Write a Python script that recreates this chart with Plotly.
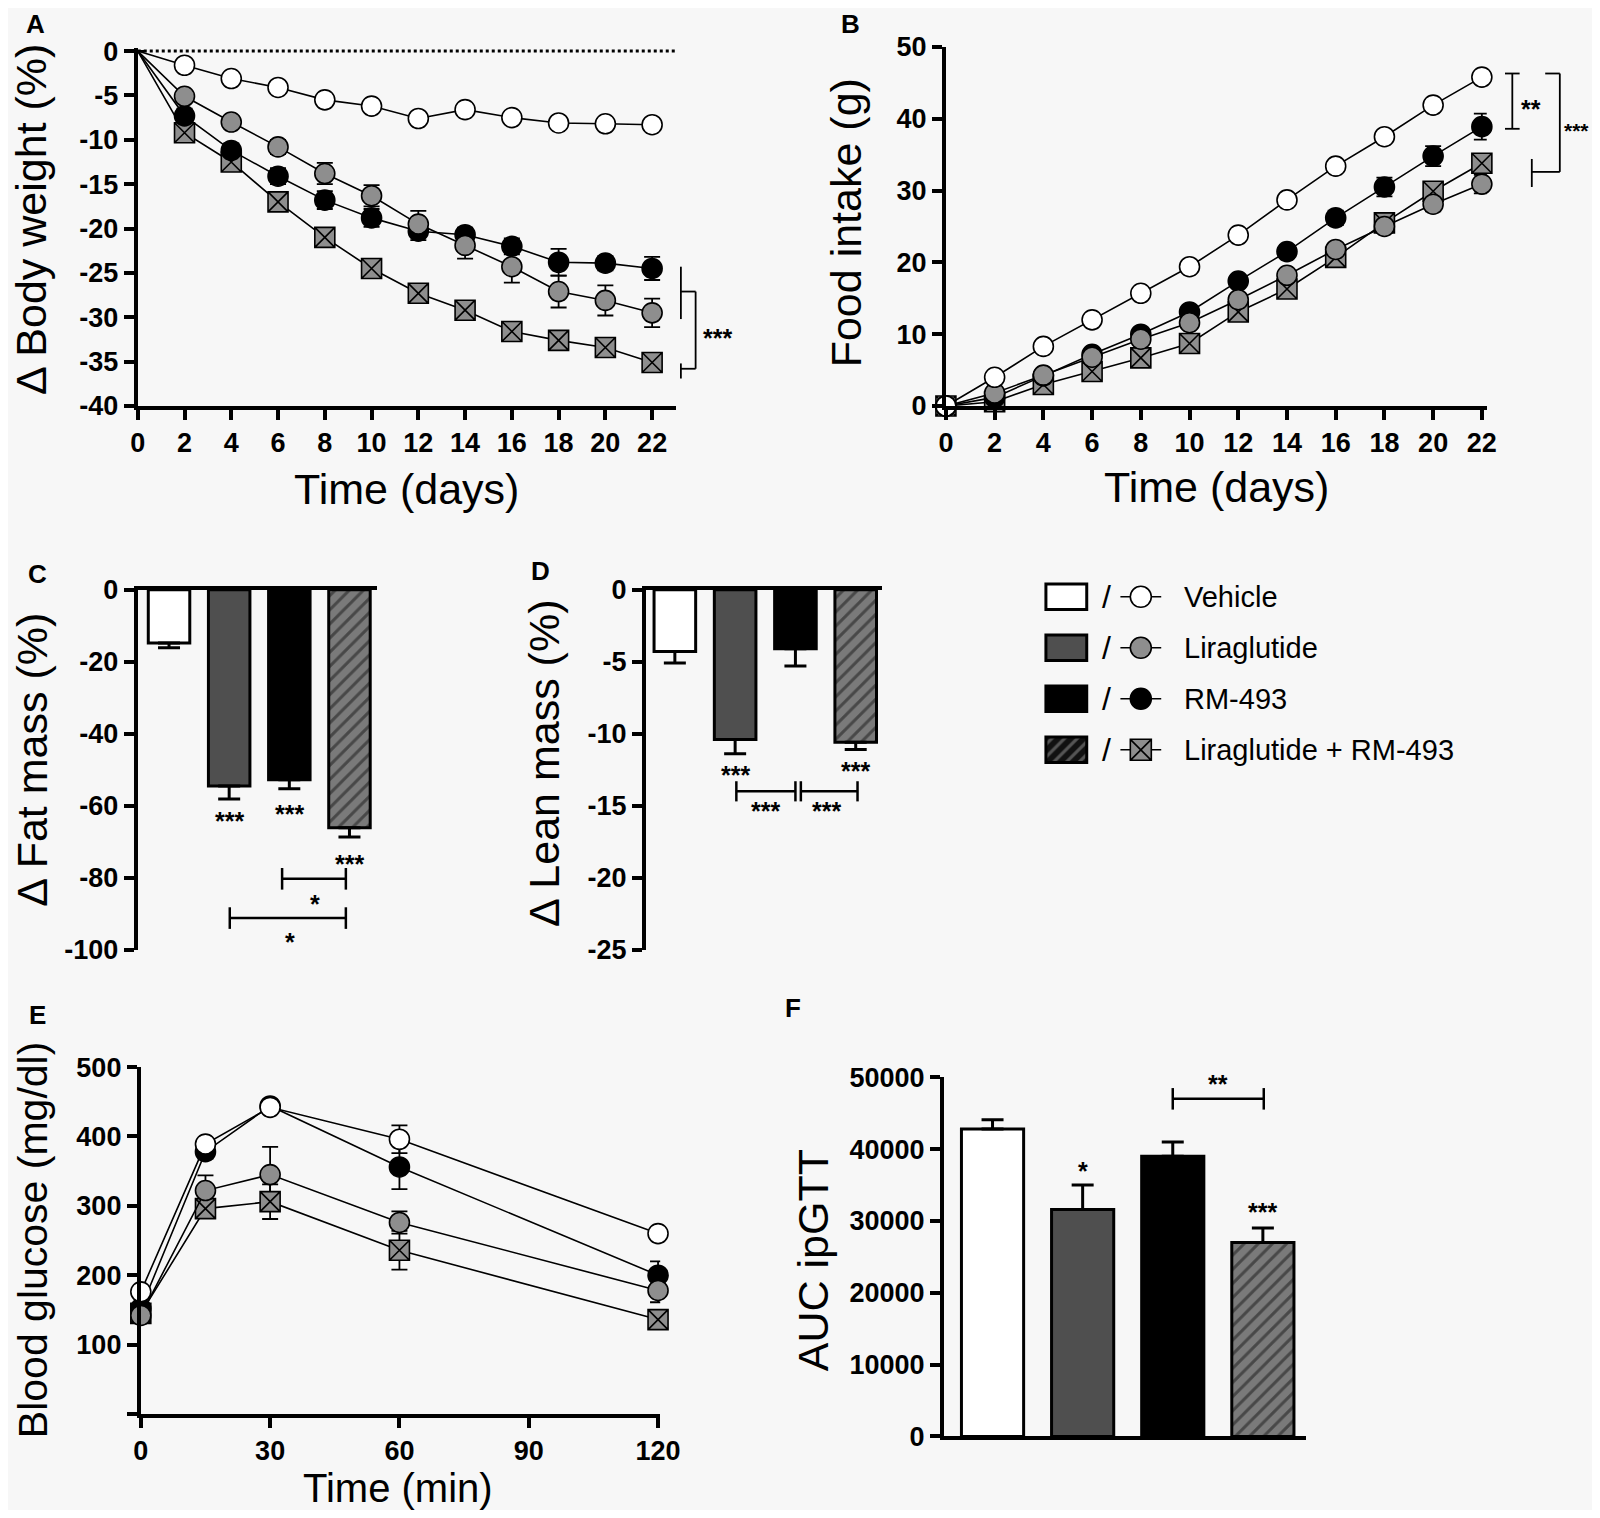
import plotly.graph_objects as go

# groups
groups = ["Vehicle", "Liraglutide", "RM-493", "Liraglutide + RM-493"]

# A: body weight change (%)
days = [0, 2, 4, 6, 8, 10, 12, 14, 16, 18, 20, 22]
bw_vehicle = [0, -1.6, -3.1, -4.1, -5.5, -6.2, -7.6, -6.6, -7.5, -8.1, -8.2, -8.3]
bw_lira = [0, -5.1, -8.0, -10.8, -13.8, -16.3, -19.5, -21.9, -24.3, -27.1, -28.1, -29.5]
bw_rm = [0, -7.3, -11.2, -14.1, -16.8, -18.8, -20.3, -20.7, -22.0, -23.8, -23.9, -24.5]
bw_combo = [0, -9.2, -12.5, -17.0, -21.0, -24.5, -27.3, -29.2, -31.6, -32.6, -33.4, -35.1]
bw_vehicle_err = [0, 0.4, 0.5, 0.5, 0.5, 0.6, 0.6, 0.6, 0.6, 0.6, 0.6, 0.6]
bw_lira_err = [0, 0.6, 0.7, 0.8, 1.2, 1.2, 1.5, 1.5, 1.8, 1.8, 1.7, 1.6]
bw_rm_err = [0, 0.8, 0.8, 0.9, 1.0, 1.0, 1.0, 0.8, 0.9, 1.5, 0.8, 1.3]
bw_combo_err = [0, 0.5, 0.6, 0.7, 0.8, 0.9, 0.8, 0.9, 0.9, 0.8, 0.9, 0.8]

# B: cumulative food intake (g)
fi_vehicle = [0, 4.0, 8.3, 12.0, 15.7, 19.4, 23.8, 28.7, 33.4, 37.5, 41.9, 45.8]
fi_lira = [0, 1.8, 4.3, 6.8, 9.3, 11.6, 14.8, 18.2, 21.8, 25.0, 28.1, 30.9]
fi_rm = [0, 1.2, 4.2, 7.2, 10.0, 13.1, 17.4, 21.5, 26.2, 30.5, 34.8, 38.9]
fi_combo = [0, 0.6, 3.0, 4.8, 6.7, 8.7, 13.1, 16.3, 20.7, 25.5, 29.9, 33.8]
fi_vehicle_err = [0, 0.3, 0.4, 0.4, 0.5, 0.5, 0.6, 0.6, 0.7, 0.7, 0.8, 0.8]
fi_lira_err = [0, 0.3, 0.4, 0.5, 0.5, 0.6, 0.7, 0.7, 0.8, 0.9, 1.0, 1.3]
fi_rm_err = [0, 0.3, 0.4, 0.5, 0.6, 0.7, 0.8, 0.9, 1.0, 1.3, 1.4, 1.8]
fi_combo_err = [0, 0.3, 0.4, 0.5, 0.5, 0.6, 0.7, 0.7, 0.8, 0.9, 1.0, 1.1]

# C / D: body composition (%)
fat_mass = [-14.8, -54.5, -52.8, -66.1]
fat_err = [1.3, 3.6, 2.5, 2.6]
lean_mass = [-4.3, -10.4, -4.1, -10.6]
lean_err = [0.8, 1.0, 1.2, 0.5]

# E: ipGTT blood glucose (mg/dl)
gtt_time = [0, 15, 30, 60, 120]
bg_vehicle = [176, 389, 442, 396, 260]
bg_lira = [142, 322, 345, 276, 178]
bg_rm = [152, 378, 444, 356, 200]
bg_combo = [145, 296, 306, 236, 136]
bg_vehicle_err = [8, 8, 8, 20, 8]
bg_lira_err = [8, 22, 40, 16, 17]
bg_rm_err = [8, 10, 8, 32, 20]
bg_combo_err = [8, 10, 25, 28, 8]

# F: AUC
auc = [42800, 31600, 39000, 27000]
auc_err = [1300, 3400, 2000, 2000]

# positions are measured on the reference (as seen, 1568x1488) and mapped
# onto a figure that leaves room for the page's 8px body margin
REF_W, REF_H = 1568, 1488
PAGE_W, PAGE_H = 1600, 1518
OFF = 8
FIG_W, FIG_H = PAGE_W - 2 * OFF, PAGE_H - 2 * OFF
BG = "#f7f7f7"
FONT = "Liberation Sans, Arial"
TICK_FONT = dict(family=FONT, size=27, color="black", weight="bold")


def fx(px):
    return (px * PAGE_W / REF_W - OFF) / FIG_W


def fy(py):
    return 1 - (py * PAGE_H / REF_H - OFF) / FIG_H


def xdom(a, b):
    return [fx(a), fx(b)]


def ydom(top, bot):
    return [fy(bot), fy(top)]


panels = {
    "A": dict(x="x", y="y", xr=[0, 23], yr=[-40, 0.35], xd=xdom(135, 662), yd=ydom(47, 398)),
    "B": dict(x="x2", y="y2", xr=[0, 22.2], yr=[0, 50], xd=xdom(927, 1457), yd=ydom(46, 398)),
    "C": dict(x="x3", y="y3", xr=[-0.52, 3.45], yr=[-100, 0], xd=xdom(135, 369), yd=ydom(578, 931)),
    "D": dict(x="x4", y="y4", xr=[-0.48, 3.43], yr=[-25, 0], xd=xdom(633, 864), yd=ydom(578, 931)),
    "E": dict(x="x5", y="y5", xr=[0, 120.5], yr=[0, 500], xd=xdom(138, 647), yd=ydom(1046, 1386)),
    "F": dict(x="x6", y="y6", xr=[-0.54, 3.48], yr=[0, 50000], xd=xdom(925, 1280), yd=ydom(1056, 1408)),
    "L": dict(x="x7", y="y7", xr=[0, 10.75], yr=[3.5, -0.5], xd=xdom(1020, 1450), yd=ydom(560, 760)),
}


def fr(v, r):
    return (v - r[0]) / (r[1] - r[0])


def seg(p, x0, y0, x1, y1, w=2.5, dash=None):
    P = panels[p]
    return dict(type="line", xref=P["x"] + " domain", yref=P["y"] + " domain",
                x0=fr(x0, P["xr"]), x1=fr(x1, P["xr"]), y0=fr(y0, P["yr"]), y1=fr(y1, P["yr"]),
                line=dict(color="black", width=w, dash=dash))


def capped(p, x0, x1, y, cap):
    # horizontal significance bar with end caps
    return [seg(p, x0, y, x1, y), seg(p, x0, y - cap, x0, y + cap), seg(p, x1, y - cap, x1, y + cap)]


def label(p, x, y, text, size=25, bold=True, xanchor="center"):
    P = panels[p]
    return dict(text=text, xref=P["x"] + " domain", yref=P["y"] + " domain",
                x=fr(x, P["xr"]), y=fr(y, P["yr"]), showarrow=False,
                xanchor=xanchor, yanchor="middle",
                font=dict(family=FONT, size=size, color="black", weight="bold" if bold else "normal"))


marker_style = {
    "Vehicle": dict(symbol="circle", color="white"),
    "Liraglutide": dict(symbol="circle", color="#8e8e8e"),
    "RM-493": dict(symbol="circle", color="black"),
    "Liraglutide + RM-493": dict(symbol="square-x", color="#8e8e8e"),
}
bar_colors = ["white", "#4f4f4f", "black", "#7a7a7a"]

fig = go.Figure()


def add_lines(p, xs, series, hide_first=False):
    P = panels[p]
    order = ["Liraglutide + RM-493", "RM-493", "Liraglutide", "Vehicle"]
    # error bars underneath everything
    for name in order:
        ys, err = series[name]
        fig.add_trace(go.Scatter(
            x=xs, y=ys, mode="markers", xaxis=P["x"], yaxis=P["y"],
            marker=dict(size=1, color="rgba(0,0,0,0)"),
            error_y=dict(type="data", array=err, color="black", thickness=1.8, width=8),
            showlegend=False, hoverinfo="skip"))
    # draw order so that white circles end up on top
    for name in order:
        ys, err = series[name]
        st = marker_style[name]
        sizes = [20] * len(xs)
        if hide_first:
            sizes[0] = 0
        fig.add_trace(go.Scatter(
            x=xs, y=ys, mode="lines+markers", xaxis=P["x"], yaxis=P["y"],
            line=dict(color="black", width=1.6),
            marker=dict(symbol=st["symbol"], size=sizes, color=st["color"], opacity=1,
                        line=dict(color="black", width=1.6)),
            cliponaxis=False, showlegend=False, name=name))


add_lines("A", days, {
    "Vehicle": (bw_vehicle, bw_vehicle_err), "Liraglutide": (bw_lira, bw_lira_err),
    "RM-493": (bw_rm, bw_rm_err), "Liraglutide + RM-493": (bw_combo, bw_combo_err)}, hide_first=True)
add_lines("B", days, {
    "Vehicle": (fi_vehicle, fi_vehicle_err), "Liraglutide": (fi_lira, fi_lira_err),
    "RM-493": (fi_rm, fi_rm_err), "Liraglutide + RM-493": (fi_combo, fi_combo_err)})
add_lines("E", gtt_time, {
    "Vehicle": (bg_vehicle, bg_vehicle_err), "Liraglutide": (bg_lira, bg_lira_err),
    "RM-493": (bg_rm, bg_rm_err), "Liraglutide + RM-493": (bg_combo, bg_combo_err)})


def add_bars(p, vals, err, down):
    P = panels[p]
    # one trace per bar so the hatch keeps its own fore/background colours
    for i, (v, e) in enumerate(zip(vals, err)):
        fig.add_trace(go.Bar(
            x=[i], y=[v], width=0.69, xaxis=P["x"], yaxis=P["y"],
            marker=dict(color=bar_colors[i], line=dict(color="black", width=3),
                        pattern=dict(shape="/" if i == 3 else "", fgcolor="#151515",
                                     bgcolor=bar_colors[i], size=10, solidity=0.3)),
            error_y=dict(type="data", symmetric=False,
                         array=[0] if down else [e], arrayminus=[e] if down else [0],
                         color="black", thickness=3, width=11),
            showlegend=False, hoverinfo="skip"))


add_bars("C", fat_mass, fat_err, True)
add_bars("D", lean_mass, lean_err, True)
add_bars("F", auc, auc_err, False)

# legend block
L = panels["L"]
rows = list(range(len(groups)))
legend_fill = ["white", "#4f4f4f", "black", "#111111"]
for r in rows:
    fig.add_trace(go.Bar(
        y=[r], x=[1], base=[0.125], orientation="h", width=0.5,
        xaxis=L["x"], yaxis=L["y"],
        marker=dict(color=legend_fill[r], line=dict(color="black", width=3),
                    pattern=dict(shape="/" if r == 3 else "", fgcolor="#9a9a9a",
                                 bgcolor=legend_fill[r], size=9, solidity=0.35)),
        showlegend=False, hoverinfo="skip"))
seg_x, seg_y = [], []
for r in rows:
    seg_x += [1.95, 2.95, None]
    seg_y += [r, r, None]
fig.add_trace(go.Scatter(x=seg_x, y=seg_y, mode="lines", xaxis=L["x"], yaxis=L["y"],
                         line=dict(color="black", width=1.6), showlegend=False, hoverinfo="skip"))
fig.add_trace(go.Scatter(
    x=[2.45] * 4, y=rows, mode="markers", xaxis=L["x"], yaxis=L["y"],
    marker=dict(symbol=[marker_style[g]["symbol"] for g in groups],
                color=[marker_style[g]["color"] for g in groups], opacity=1,
                size=21, line=dict(color="black", width=1.6)),
    showlegend=False, hoverinfo="skip"))

annotations = []
for r, g in zip(rows, groups):
    annotations.append(label("L", 1.62, r, "/", size=32, bold=False))
    annotations.append(label("L", 3.45, r, g, size=29, bold=False, xanchor="left"))

shapes = [seg("A", 0, 0, 23, 0, w=3, dash="dot")]

# A significance
shapes += [seg("A", 23.23, -24.3, 23.23, -30.2, w=1.8),
           seg("A", 23.23, -27.1, 23.86, -27.1, w=1.8),
           seg("A", 23.86, -27.1, 23.86, -35.8, w=1.8),
           seg("A", 23.23, -35.8, 23.86, -35.8, w=1.8),
           seg("A", 23.23, -35.2, 23.23, -36.9, w=1.8)]
annotations.append(label("A", 24.8, -32.3, "***"))

# B significance
shapes += [seg("B", 23.25, 46.3, 23.25, 38.6, w=1.8),
           seg("B", 22.95, 46.3, 23.55, 46.3, w=1.8),
           seg("B", 22.95, 38.6, 23.55, 38.6, w=1.8),
           seg("B", 24.6, 46.3, 25.2, 46.3, w=1.8),
           seg("B", 25.2, 46.3, 25.2, 32.6, w=1.8),
           seg("B", 24.05, 32.6, 25.2, 32.6, w=1.8),
           seg("B", 24.05, 34.4, 24.05, 30.5, w=1.8)]
annotations += [label("B", 24.0, 41.4, "**"),
                label("B", 25.3, 38.3, "***", size=21, xanchor="left")]

# C significance
annotations += [label("C", 1, -64.3, "***"), label("C", 2, -62.3, "***"), label("C", 3, -76.2, "***"),
                label("C", 2.42, -87.2, "*"), label("C", 2.01, -97.9, "*")]
shapes += capped("C", 1.88, 2.94, -80.3, 3) + capped("C", 1.01, 2.94, -91.2, 3)

# D significance
annotations += [label("D", 1, -12.9, "***"), label("D", 3, -12.6, "***"),
                label("D", 1.5, -15.4, "***"), label("D", 2.52, -15.4, "***")]
shapes += capped("D", 1.02, 2.0, -14.0, 0.7) + capped("D", 2.09, 3.03, -14.0, 0.7)

# F significance
annotations += [label("F", 1, 37000, "*"), label("F", 3, 31300, "***"), label("F", 2.5, 49000, "**")]
shapes += capped("F", 2.0, 3.01, 47000, 1500)


def paper_text(x, y, text, size, angle=0, bold=False):
    return dict(text=text, xref="paper", yref="paper", x=fx(x), y=fy(y),
                xanchor="center", yanchor="middle", showarrow=False, textangle=angle,
                font=dict(family=FONT, size=size, color="black", weight="bold" if bold else "normal"))


# axis titles
annotations += [
    paper_text(31, 215, "Δ Body weight (%)", 43, -90),
    paper_text(398, 479, "Time (days)", 43),
    paper_text(829, 218, "Food intake (g)", 43, -90),
    paper_text(1192, 477, "Time (days)", 43),
    paper_text(31, 745, "Δ Fat mass (%)", 43, -90),
    paper_text(533, 748, "Δ Lean mass (%)", 43, -90),
    paper_text(33, 1215, "Blood glucose (mg/dl)", 41, -90),
    paper_text(390, 1459, "Time (min)", 40),
    paper_text(797, 1235, "AUC ipGTT", 43, -90),
]
# panel letters
for t, x, y in [("A", 35, 24), ("B", 833, 24), ("C", 37, 563), ("D", 530, 560),
                 ("E", 37, 995), ("F", 777, 988)]:
    annotations.append(paper_text(x, y, t, 26, bold=True))


def axis_common(P, key):
    return dict(domain=P[key + "d"], range=P[key + "r"], showgrid=False, zeroline=False,
                showline=True, linecolor="black", linewidth=4, ticks="outside", ticklen=10,
                tickwidth=4, tickcolor="black", tickfont=TICK_FONT, fixedrange=True,
                automargin=False)


def ax_name(ref, letter):
    return letter + "axis" + ref[1:]


def ticks(vals, blank_first=False):
    text = [str(v) for v in vals]
    if blank_first:
        text[0] = ""
    return dict(tickvals=vals, ticktext=text)


tick_setup = {
    "A": (ticks(days), ticks(list(range(-40, 1, 5)))),
    "B": (ticks(days), ticks(list(range(0, 51, 10)))),
    "C": (dict(side="top", ticks="", showticklabels=False), ticks(list(range(-100, 1, 20)))),
    "D": (dict(side="top", ticks="", showticklabels=False), ticks(list(range(-25, 1, 5)))),
    "E": (ticks([0, 30, 60, 90, 120]), ticks(list(range(0, 501, 100)), blank_first=True)),
    "F": (dict(ticks="", showticklabels=False), ticks(list(range(0, 50001, 10000)))),
}

layout_axes = {}
for p, (xt, yt) in tick_setup.items():
    P = panels[p]
    xa = axis_common(P, "x")
    xa.update(anchor=P["y"])
    xa.update(xt)
    ya = axis_common(P, "y")
    ya.update(anchor=P["x"])
    ya.update(yt)
    layout_axes[ax_name(P["x"], "x")] = xa
    layout_axes[ax_name(P["y"], "y")] = ya

layout_axes["xaxis7"] = dict(domain=L["xd"], range=L["xr"], visible=False, anchor="y7",
                             fixedrange=True, automargin=False)
layout_axes["yaxis7"] = dict(domain=L["yd"], range=L["yr"], visible=False, anchor="x7",
                             fixedrange=True, automargin=False)

fig.update_layout(
    width=FIG_W, height=FIG_H, margin=dict(l=0, r=0, t=0, b=0, autoexpand=False),
    paper_bgcolor=BG, plot_bgcolor=BG, barmode="overlay",
    shapes=shapes, annotations=annotations, **layout_axes)

fig.write_html("out.html")
